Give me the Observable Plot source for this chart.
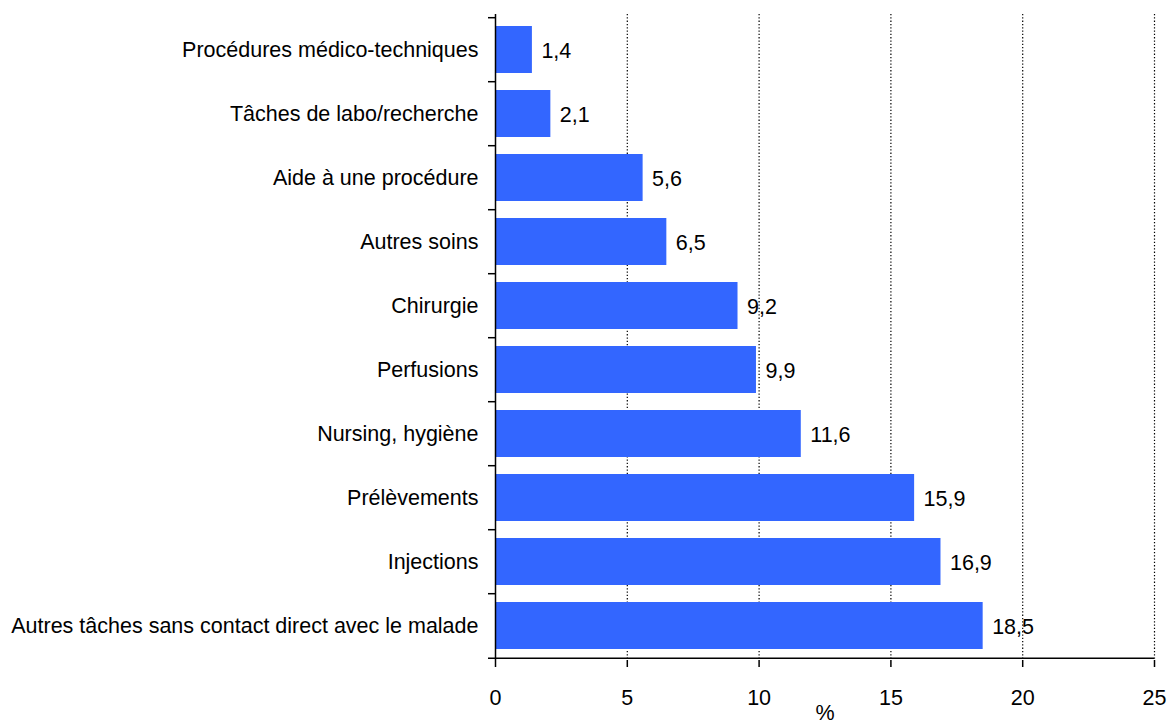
<!DOCTYPE html>
<html>
<head>
<meta charset="utf-8">
<script src="https://cdn.jsdelivr.net/npm/d3@7"></script>
<script src="https://cdn.jsdelivr.net/npm/@observablehq/plot@0.6"></script>
<style>
  html, body { margin: 0; padding: 0; background: #fff; }
  #chart svg { display: block; }
</style>
</head>
<body>
<div id="chart"></div>
<script>
const categories = [
  "Procédures médico-techniques",
  "Tâches de labo/recherche",
  "Aide à une procédure",
  "Autres soins",
  "Chirurgie",
  "Perfusions",
  "Nursing, hygiène",
  "Prélèvements",
  "Injections",
  "Autres tâches sans contact direct avec le malade"
];
const values = [1.4, 2.1, 5.6, 6.5, 9.2, 9.9, 11.6, 15.9, 16.9, 18.5];
const xTicks = [0, 5, 10, 15, 20, 25];
const gridTicks = [5, 10, 15, 20, 25];

const data = categories.map((c, i) => ({category: c, value: values[i]}));
const fmt = v => String(v).replace(".", ",");

const W = 1168, H = 726;
const mTop = 14, mBottom = 66, mLeft = 495, mRight = 14;
const step = (H - mTop - mBottom) / categories.length;
const font = "Liberation Sans, Arial, sans-serif";
const fs = 21.5;

const chart = Plot.plot({
  width: W,
  height: H,
  marginTop: mTop,
  marginBottom: mBottom,
  marginLeft: mLeft,
  marginRight: mRight,
  style: {fontFamily: font, fontSize: fs + "px", color: "#000", background: "#fff"},
  x: {domain: [0, 25]},
  y: {domain: categories, paddingInner: 0.27, paddingOuter: 0.135},
  marks: [
    Plot.gridX(gridTicks, {stroke: "#000", strokeOpacity: 1, strokeWidth: 1.2, strokeDasharray: "1.3,2"}),
    Plot.barX(data, {x: "value", y: "category", fill: "#3366FF"}),
    Plot.text(data, {x: "value", y: "category", text: d => fmt(d.value), textAnchor: "start", dx: 9, dy: 1, fontSize: fs, fill: "#000"}),
    Plot.ruleX([0], {stroke: "#000", strokeWidth: 1.5}),
    Plot.ruleY(categories, {y: d => d, x1: 0, x2: 0, insetLeft: -7, dy: -step / 2, stroke: "#000", strokeWidth: 1.5}),
    Plot.ruleY([categories[categories.length - 1]], {y: d => d, insetLeft: -7, dy: step / 2, stroke: "#000", strokeWidth: 1.5}),
    Plot.axisY({tickSize: 0, tickPadding: 17, fontSize: fs, label: null}),
    Plot.axisX({ticks: xTicks, tickSize: 7, tickPadding: 22, fontSize: fs, tickFormat: d => String(d),
      stroke: "#000", strokeWidth: 1.5, label: "%", labelAnchor: "center", labelArrow: "none", labelOffset: 59})
  ]
});
document.getElementById("chart").appendChild(chart);
</script>
</body>
</html>
